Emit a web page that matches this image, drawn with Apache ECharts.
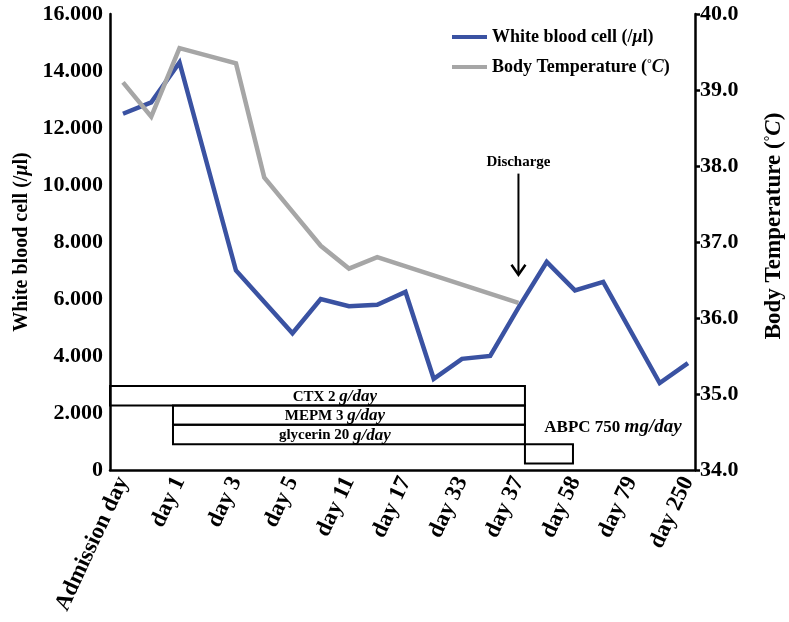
<!DOCTYPE html>
<html>
<head>
<meta charset="utf-8">
<script src="https://cdn.jsdelivr.net/npm/echarts@6/dist/echarts.min.js"></script>
<style>html,body{margin:0;padding:0;background:#fff}#c{width:789px;height:622px}</style>
</head>
<body>
<div id="c"></div>
<script>
// ---- data ----
const categories = ['Admission day', 'day 1', 'day 3', 'day 5', 'day 11', 'day 17', 'day 33', 'day 37', 'day 58', 'day 79', 'day 250'];
// sample positions 0..20 (two samples per labelled category step)
const wbc = [12500, 12900, 14300, null, 7000, null, 4800, 6000, 5750, 5800, 6250, 3200, 3900, 4000, 5700, 7300, 6300, 6600, null, 3050, 3750];
const temperature = [39.1, 38.65, 39.55, null, 39.35, 37.85, 37.4, 36.95, 36.65, 36.8, null, null, null, null, 36.2, null, null, null, null, null, null];
const wbcTicks = [0, 2000, 4000, 6000, 8000, 10000, 12000, 14000, 16000];
const tempTicks = [34, 35, 36, 37, 38, 39, 40];
const treatmentNames = ['CTX 2 ', 'MEPM 3 ', 'glycerin 20 ', 'ABPC 750 '];
const treatmentUnits = ['g/day', 'g/day', 'g/day', 'mg/day'];
const treatmentStart = [-0.46, 1.77, 1.77, 14.23];
const treatmentEnd = [14.23, 14.23, 14.23, 15.93];
const dischargeAt = [14, 10400, 6850];

const FONT = '"Liberation Serif", "Times New Roman", serif';
const BLUE = '#3a52a2', GRAY = '#a6a6a6';

const chart = echarts.init(document.getElementById('c'), null, {renderer: 'canvas'});
const toPairs = arr => arr.map((v, i) => v == null ? null : [i, v]).filter(Boolean);
const labelValues = categories.map((_, i) => i * 2);

const option = {
  animation: false,
  backgroundColor: '#fff',
  grid: {left: 110, right: 94, top: 14, bottom: 152, containLabel: false, outerBoundsMode: 'none'},
  legend: {
    orient: 'vertical', left: 447, top: 23, itemWidth: 35, itemHeight: 4, itemGap: 12,
    icon: 'rect',
    data: ['White blood cell (/μl)', 'Body Temperature (°C)'],
    textStyle: {fontFamily: FONT, fontWeight: 'bold', fontSize: 18, color: '#000',
      rich: {i: {fontFamily: FONT, fontWeight: 'bold', fontStyle: 'italic', fontSize: 18, color: '#000'},
             d: {fontFamily: FONT, fontWeight: 'bold', fontSize: 12, color: '#000', verticalAlign: 'top'}}},
    formatter: n => n.replace('μ', '{i|μ}').replace('°C', '{d|°}{i|C}')
  },
  xAxis: {
    type: 'value', min: -0.46, max: 20.25,
    axisLine: {show: true, onZero: false, lineStyle: {color: '#000', width: 2.5}},
    axisTick: {show: false}, splitLine: {show: false},
    axisLabel: {
      customValues: labelValues, rotate: 65, margin: 8, interval: 0,
      formatter: v => categories[Math.round(v / 2)] || '',
      fontFamily: FONT, fontWeight: 'bold', fontSize: 23, color: '#000'
    }
  },
  yAxis: [{
    type: 'value', min: 0, max: 16000, interval: 2000, position: 'left',
    name: 'White blood cell (/{i|μ}l)', nameLocation: 'middle', nameGap: 76, nameRotate: 90,
    nameTextStyle: {fontFamily: FONT, fontWeight: 'bold', fontSize: 20, color: '#000',
      rich: {i: {fontFamily: FONT, fontWeight: 'bold', fontStyle: 'italic', fontSize: 20, color: '#000'}}},
    axisLine: {show: true, onZero: false, lineStyle: {color: '#000', width: 2.5}},
    axisTick: {show: false}, splitLine: {show: false},
    axisLabel: {margin: 7, fontFamily: FONT, fontWeight: 'bold', fontSize: 22, color: '#000',
      formatter: v => v === 0 ? '0' : (v / 1000) + '.000'}
  }, {
    type: 'value', min: 34, max: 40, interval: 1, position: 'right',
    name: 'Body Temperature ({d|°}{i|C})', nameLocation: 'middle', nameGap: 68, nameRotate: 90,
    nameTextStyle: {fontFamily: FONT, fontWeight: 'bold', fontSize: 23, color: '#000', padding: [0, 0, 0, 32],
      rich: {i: {fontFamily: FONT, fontWeight: 'bold', fontStyle: 'italic', fontSize: 23, color: '#000'},
             d: {fontFamily: FONT, fontWeight: 'bold', fontSize: 14, color: '#000', verticalAlign: 'top'}}},
    axisLine: {show: true, onZero: false, lineStyle: {color: '#000', width: 2.5}},
    axisTick: {show: true, length: 5, lineStyle: {color: '#000', width: 2.5}},
    splitLine: {show: false},
    axisLabel: {margin: 5, fontFamily: FONT, fontWeight: 'bold', fontSize: 22, color: '#000',
      formatter: v => v.toFixed(1)}
  }],
  series: [{
    name: 'White blood cell (/μl)', type: 'line', yAxisIndex: 0, data: toPairs(wbc),
    symbol: 'none', lineStyle: {color: BLUE, width: 4.5, join: 'miter'}, itemStyle: {color: BLUE}, z: 3
  }, {
    name: 'Body Temperature (°C)', type: 'line', yAxisIndex: 1, data: toPairs(temperature),
    symbol: 'none', lineStyle: {color: GRAY, width: 4.5, join: 'miter'}, itemStyle: {color: GRAY}, z: 4
  }, {
    type: 'custom', yAxisIndex: 0, z: 5, silent: true,
    data: treatmentNames.map((n, i) => [treatmentStart[i], treatmentEnd[i], i]),
    renderItem: (params, api) => {
      const i = api.value(2);
      const x0 = api.coord([api.value(0), 0])[0];
      const x1 = api.coord([api.value(1), 0])[0];
      const base = api.coord([0, 0])[1];
      const rowH = 19.4;
      const top = base - 84 + i * rowH;
      const isLast = i === 3;
      const tx = isLast ? x1 + 40 : api.coord([7.5, 0])[0];
      const ty = isLast ? top - 17 : top + rowH / 2 + 1;
      const fs = isLast ? 17 : 15;
      return {
        type: 'group', children: [{
          type: 'rect', shape: {x: x0, y: top, width: x1 - x0, height: rowH},
          style: {fill: 'none', stroke: '#000', lineWidth: 2}
        }, {
          type: 'text', x: tx, y: ty,
          style: {
            text: treatmentNames[i] + '{i|' + treatmentUnits[i] + '}',
            fontFamily: FONT, fontWeight: 'bold', fontSize: fs, fill: '#000',
            align: 'center', verticalAlign: 'middle',
            rich: {i: {fontFamily: FONT, fontWeight: 'bold', fontStyle: 'italic', fontSize: fs + 2, fill: '#000'}}
          }
        }]
      };
    }
  }, {
    type: 'custom', yAxisIndex: 0, z: 6, silent: true,
    data: [dischargeAt],
    renderItem: (params, api) => {
      const p0 = api.coord([api.value(0), api.value(1)]);
      const p1 = api.coord([api.value(0), api.value(2)]);
      return {
        type: 'group', children: [{
          type: 'line', shape: {x1: p0[0], y1: p0[1], x2: p1[0], y2: p1[1]},
          style: {stroke: '#000', lineWidth: 2}
        }, {
          type: 'polyline', shape: {points: [[p1[0] - 7, p1[1] - 10], [p1[0], p1[1]], [p1[0] + 7, p1[1] - 10]]},
          style: {stroke: '#000', lineWidth: 2.5, fill: 'none'}
        }, {
          type: 'text', x: p0[0], y: p0[1] - 11,
          style: {text: 'Discharge', fontFamily: FONT, fontWeight: 'bold', fontSize: 15, fill: '#000',
            align: 'center', verticalAlign: 'middle'}
        }]
      };
    }
  }]
};
chart.setOption(option);
</script>
</body>
</html>
